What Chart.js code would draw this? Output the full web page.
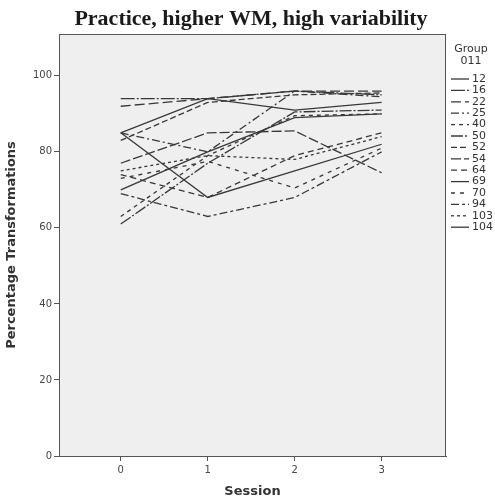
<!DOCTYPE html>
<html>
<head>
<meta charset="utf-8">
<script src="https://cdn.jsdelivr.net/npm/chart.js@4.4.0/dist/chart.umd.min.js"></script>
<style>
  html, body { margin: 0; padding: 0; background: #fff; }
  #wrap { width: 495px; height: 503px; }
</style>
</head>
<body>
<div id="wrap"><canvas id="chartCanvas"></canvas></div>
<script>
// sessions on the x axis
const sessions = [0, 1, 2, 3];
const yTicks = [0, 20, 40, 60, 80, 100];

// one row per group, percentage transformations per session
const groupIds = ["12", "16", "22", "25", "40", "50", "52", "54", "64", "69", "70", "94", "103", "104"];
const g12 = [85, 94, 91, 93];
const g16 = [94, 94, 96, 95];
const g22 = [92, 94, 96, 96];
const g25 = [85, 80, 96, 94.5];
const g40 = [63, 79, 89.5, 90];
const g50 = [61, 77, 90.5, 91];
const g52 = [83, 93, 95, 95.5];
const g54 = [77, 85, 85.5, 74.5];
const g64 = [74, 68, 79, 85];
const g69 = [85, 68, 75, 82];
const g70 = [73, 77.5, 70.5, 81];
const g94 = [69, 63, 68, 80];
const g103 = [75, 79, 78, 84];
const g104 = [70, 80, 89, 90];
const groupValues = [g12, g16, g22, g25, g40, g50, g52, g54, g64, g69, g70, g94, g103, g104];

// line styles (SPSS style greyscale dashes)
const dashes = [
    [], [14, 2, 2, 2], [10, 4], [8, 3, 2, 3], [4, 4], [12, 2, 2, 2], [6, 3],
    [10, 3], [6, 4], [], [4, 5], [8, 3, 3, 3], [3, 3], []
];

const datasets = groupIds.map((id, i) => ({
    label: id,
    data: sessions.map((s, j) => ({ x: s, y: groupValues[i][j] })),
    borderColor: "#383838",
    borderWidth: 1.3,
    borderDash: dashes[i],
    pointRadius: 0,
    fill: false,
    tension: 0
}));

// grey plot background + frame, title, legend
const spssFrame = {
    id: "spssFrame",
    beforeDatasetsDraw(chart) {
        const { ctx, chartArea: a } = chart;
        ctx.save();
        ctx.fillStyle = "#efefef";
        ctx.fillRect(a.left, a.top, a.right - a.left, a.bottom - a.top);
        ctx.restore();
    },
    afterDraw(chart) {
        const { ctx, chartArea: a } = chart;
        ctx.save();
        ctx.strokeStyle = "#555";
        ctx.lineWidth = 1;
        ctx.strokeRect(a.left + 0.5, a.top + 0.5, a.right - a.left - 1, a.bottom - a.top);

        // title
        ctx.fillStyle = "#1a1a1a";
        ctx.font = "bold 22px 'Liberation Serif'";
        ctx.textAlign = "center";
        ctx.textBaseline = "alphabetic";
        ctx.fillText("Practice, higher WM, high variability", 251, 25);

        // legend
        ctx.font = "11px 'DejaVu Sans'";
        ctx.fillStyle = "#333";
        ctx.textAlign = "center";
        ctx.fillText("Group", 471, 52);
        ctx.fillText("011", 471, 64);
        ctx.textAlign = "left";
        ctx.textBaseline = "middle";
        groupIds.forEach((id, i) => {
            const y = 79 + i * 11.4;
            ctx.beginPath();
            ctx.setLineDash(dashes[i]);
            ctx.strokeStyle = "#383838";
            ctx.lineWidth = 1.3;
            ctx.moveTo(451, y);
            ctx.lineTo(469, y);
            ctx.stroke();
            ctx.setLineDash([]);
            ctx.fillText(id, 472, y);
        });
        ctx.restore();
    }
};

new Chart(document.getElementById("chartCanvas"), {
    type: "line",
    data: { datasets: datasets },
    options: {
        responsive: true,
        maintainAspectRatio: false,
        animation: false,
        layout: { padding: { top: 34, right: 49, left: 0, bottom: 0 } },
        plugins: {
            legend: { display: false },
            tooltip: { enabled: false }
        },
        scales: {
            x: {
                type: "linear",
                min: -0.71,
                max: 3.74,
                afterBuildTicks(scale) { scale.ticks = sessions.map(v => ({ value: v })); },
                afterFit(scale) { scale.height = 47; },
                grid: { drawOnChartArea: false, drawTicks: true, tickLength: 5, color: "#555" },
                border: { color: "#555" },
                ticks: { color: "#444", font: { family: "DejaVu Sans", size: 10 }, padding: 3 },
                title: {
                    display: true, text: "Session", color: "#333",
                    font: { family: "DejaVu Sans", size: 13, weight: "bold" }, padding: { top: 6 }
                }
            },
            y: {
                min: 0,
                max: 111,
                afterBuildTicks(scale) { scale.ticks = yTicks.map(v => ({ value: v })); },
                afterFit(scale) { scale.width = 59; },
                grid: { drawOnChartArea: false, drawTicks: true, tickLength: 5, color: "#555" },
                border: { color: "#555" },
                ticks: { color: "#444", font: { family: "DejaVu Sans", size: 10 }, padding: 2 },
                title: {
                    display: true, text: "Percentage Transformations", color: "#333",
                    font: { family: "DejaVu Sans", size: 13, weight: "bold" }, padding: { bottom: 4 }
                }
            }
        }
    },
    plugins: [spssFrame]
});
</script>
</body>
</html>
